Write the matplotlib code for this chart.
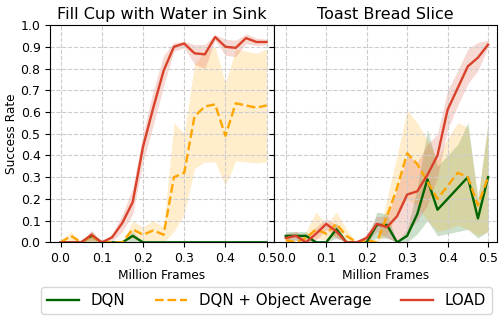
import numpy as np
import matplotlib
matplotlib.use('Agg')
import matplotlib.pyplot as plt

frames = [0.0, 0.025, 0.05, 0.075, 0.1, 0.125, 0.15, 0.175, 0.2, 0.225, 0.25,
          0.275, 0.3, 0.325, 0.35, 0.375, 0.4, 0.425, 0.45, 0.475, 0.5]

# Fill Cup with Water in Sink
cup_dqn = [0, 0, 0, 0.03, 0, 0, 0, 0.03, 0, 0, 0, 0, 0, 0, 0, 0, 0, 0, 0, 0, 0]
cup_dqn_lo = [0, 0, 0, 0.0, 0, 0, 0, 0.0, 0, 0, 0, 0, 0, 0, 0, 0, 0, 0, 0, 0, 0]
cup_dqn_hi = [0, 0, 0, 0.05, 0, 0, 0, 0.05, 0, 0, 0, 0, 0, 0, 0, 0, 0, 0, 0, 0, 0]
cup_avg = [0, 0.03, 0, 0.03, 0, 0, 0, 0.06, 0.035, 0.055, 0.035, 0.30, 0.32, 0.58,
           0.625, 0.635, 0.49, 0.64, 0.63, 0.62, 0.63]
cup_avg_lo = [0, 0, 0, 0, 0, 0, 0, 0.02, 0, 0.01, 0, 0.05, 0.13, 0.34, 0.37,
              0.37, 0.26, 0.375, 0.37, 0.365, 0.37]
cup_avg_hi = [0, 0.05, 0, 0.05, 0, 0, 0, 0.10, 0.07, 0.10, 0.07, 0.55, 0.50, 0.82,
              0.88, 0.90, 0.73, 0.89, 0.88, 0.87, 0.89]
cup_load = [0, 0, 0, 0.035, 0, 0.023, 0.09, 0.185, 0.44, 0.62, 0.79, 0.90, 0.915,
            0.87, 0.865, 0.945, 0.90, 0.895, 0.94, 0.922, 0.922]
cup_load_lo = [0, 0, 0, 0.01, 0, 0.005, 0.05, 0.13, 0.37, 0.54, 0.72, 0.88, 0.895,
               0.82, 0.80, 0.93, 0.86, 0.855, 0.915, 0.905, 0.91]
cup_load_hi = [0, 0, 0, 0.055, 0, 0.04, 0.13, 0.25, 0.50, 0.70, 0.86, 0.92, 0.925,
               0.91, 0.91, 0.955, 0.935, 0.93, 0.96, 0.94, 0.935]

# Toast Bread Slice
toast_dqn = [0.03, 0.03, 0.03, 0.0, 0.0, 0.06, 0.0, 0.0, 0.0, 0.08, 0.08, 0.0,
             0.03, 0.13, 0.29, 0.15, 0.20, 0.25, 0.30, 0.11, 0.30]
toast_dqn_lo = [0.01, 0.01, 0.01, 0.0, 0.0, 0.02, 0.0, 0.0, 0.0, 0.02, 0.02, 0.0,
                0.0, 0.04, 0.10, 0.03, 0.04, 0.05, 0.06, 0.02, 0.05]
toast_dqn_hi = [0.05, 0.05, 0.05, 0.0, 0.0, 0.09, 0.0, 0.0, 0.0, 0.14, 0.13, 0.0,
                0.06, 0.25, 0.52, 0.35, 0.40, 0.45, 0.55, 0.20, 0.55]
toast_avg = [0.01, 0.0, 0.02, 0.06, 0.04, 0.085, 0.03, 0.0, 0.01, 0.0, 0.12, 0.25,
             0.41, 0.36, 0.28, 0.20, 0.26, 0.32, 0.30, 0.17, 0.30]
toast_avg_lo = [0.0, 0.0, 0.0, 0.02, 0.01, 0.03, 0.0, 0.0, 0.0, 0.0, 0.04, 0.12,
                0.20, 0.17, 0.10, 0.05, 0.06, 0.08, 0.06, 0.03, 0.05]
toast_avg_hi = [0.03, 0.0, 0.05, 0.14, 0.08, 0.14, 0.06, 0.0, 0.03, 0.0, 0.20, 0.40,
                0.61, 0.55, 0.47, 0.38, 0.48, 0.55, 0.53, 0.20, 0.55]
toast_load = [0.02, 0.03, 0.0, 0.04, 0.085, 0.05, 0.0, 0.0, 0.02, 0.085, 0.07,
              0.12, 0.22, 0.235, 0.31, 0.40, 0.61, 0.71, 0.81, 0.85, 0.91]
toast_load_lo = [0.0, 0.01, 0.0, 0.01, 0.06, 0.02, 0.0, 0.0, 0.0, 0.05, 0.02,
                 0.0, 0.05, 0.10, 0.17, 0.30, 0.52, 0.63, 0.73, 0.79, 0.90]
toast_load_hi = [0.04, 0.05, 0.01, 0.07, 0.11, 0.08, 0.0, 0.0, 0.04, 0.12, 0.12,
                 0.24, 0.40, 0.37, 0.45, 0.50, 0.70, 0.79, 0.89, 0.92, 0.93]

green = '#006400'
orange = '#ffa500'
red = '#d9412b'

fig, axes = plt.subplots(1, 2, sharey=True, figsize=(5.03, 3.21), dpi=100)
fig.subplots_adjust(left=0.1, right=0.988, top=0.922, bottom=0.245, wspace=0)

panels = [
    (axes[0], 'Fill Cup with Water in Sink',
     (cup_dqn, cup_dqn_lo, cup_dqn_hi), (cup_avg, cup_avg_lo, cup_avg_hi),
     (cup_load, cup_load_lo, cup_load_hi), (-0.025, 0.517)),
    (axes[1], 'Toast Bread Slice',
     (toast_dqn, toast_dqn_lo, toast_dqn_hi), (toast_avg, toast_avg_lo, toast_avg_hi),
     (toast_load, toast_load_lo, toast_load_hi), (-0.03, 0.522)),
]

for ax, title, dqn, avg, load, xlim in panels:
    ax.fill_between(frames, dqn[1], dqn[2], color=green, alpha=0.2, lw=0)
    ax.fill_between(frames, avg[1], avg[2], color=orange, alpha=0.2, lw=0)
    ax.fill_between(frames, load[1], load[2], color=red, alpha=0.2, lw=0)
    ax.plot(frames, dqn[0], color=green, lw=1.7, label='DQN')
    ax.plot(frames, avg[0], color=orange, lw=1.7, ls='--', label='DQN + Object Average')
    ax.plot(frames, load[0], color=red, lw=1.7, label='LOAD')
    ax.set_title(title, fontsize=11.5, pad=4)
    ax.set_xlabel('Million Frames', fontsize=8.7, labelpad=3)
    ax.set_xlim(*xlim)
    ax.set_ylim(0, 1.0)
    ax.set_xticks(np.arange(0, 0.51, 0.1))
    ax.set_yticks(np.arange(0, 1.01, 0.1))
    ax.xaxis.set_major_formatter('{x:.1f}')
    ax.yaxis.set_major_formatter('{x:.1f}')
    ax.tick_params(labelsize=9)
    ax.grid(True, ls='--', color='#cccccc', lw=0.8)

axes[0].set_ylabel('Success Rate', fontsize=8.7, labelpad=2)

handles, labels = axes[0].get_legend_handles_labels()
fig.legend(handles, labels, loc='lower center', ncol=3, fontsize=10.8,
           bbox_to_anchor=(0.53, 0.022), borderaxespad=0,
           columnspacing=2.0, handlelength=2.1, handletextpad=0.8)

fig.savefig('out.png', dpi=100)
